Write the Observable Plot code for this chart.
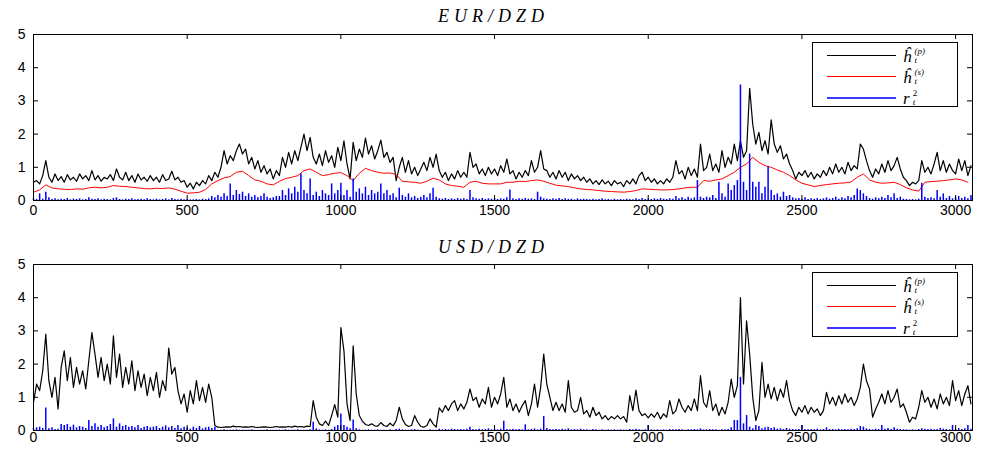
<!DOCTYPE html>
<html><head><meta charset="utf-8">
<script src="https://cdn.jsdelivr.net/npm/d3@7"></script>
<script src="https://cdn.jsdelivr.net/npm/@observablehq/plot@0.6"></script>
<style>
body{margin:0;background:#fff;}
#wrap{position:relative;width:982px;height:450px;overflow:hidden;background:#fff;}
.panel{position:absolute;left:0;width:982px;height:225px;z-index:1;}
.title{position:absolute;left:0;width:982px;text-align:center;font-family:"Liberation Serif",serif;font-style:italic;font-size:18px;line-height:18px;letter-spacing:5px;padding-left:5px;box-sizing:border-box;z-index:3;}
.legend{position:absolute;left:812px;width:146px;height:65px;border:1px solid #000;background:#fff;box-sizing:border-box;z-index:4;}
.row{position:absolute;left:0;width:144px;height:0;}
.ln{position:absolute;left:14px;width:69px;height:0;top:0;border-top:1px solid #000;}
.lab{position:absolute;left:90px;top:-10px;height:20px;line-height:20px;font-family:"Liberation Serif",serif;font-style:italic;font-size:17px;white-space:nowrap;}
.base{display:inline-block;vertical-align:middle;line-height:17px;}
.stack{display:inline-block;vertical-align:middle;font-size:9px;line-height:9.5px;margin-left:3px;}
.stack span{display:block;}
</style></head>
<body><div id="wrap">
<div class="panel" id="p1" style="top:0"></div>
<div class="panel" id="p2" style="top:225px"></div>
<div class="title" id="t1" style="top:7px"></div>
<div class="title" id="t2" style="top:238px"></div>
</div>
<script>
// observation index step used for the sampled series
const SAMPLE_STEP = 10;
const RED_STEP = 20;
const xTicks = [0, 500, 1000, 1500, 2000, 2500, 3000];
const yTicks = [0, 1, 2, 3, 4, 5];
const titles = ["EUR/DZD", "USD/DZD"];

// EUR/DZD  h_t^(p)  (black), one value every 10 observations, 0..3050
const eurHp = [
0.55,0.6,0.5,0.75,1.2,0.7,0.55,0.8,0.6,0.72,0.55,0.78,0.62,0.7,0.58,0.8,0.65,0.75,0.6,0.9,
0.62,0.75,0.58,0.7,0.65,0.78,0.6,0.95,0.7,0.62,0.85,0.6,0.75,0.55,0.8,0.62,0.7,0.58,0.75,0.6,
0.7,0.55,0.78,0.6,0.65,0.88,0.62,0.7,0.55,0.6,0.4,0.52,0.35,0.55,0.45,0.6,0.5,0.75,0.6,0.85,
0.7,1.0,1.5,1.1,1.35,1.2,1.5,1.7,1.4,1.55,1.1,1.3,0.95,1.2,0.85,1.05,0.8,0.95,0.65,0.9,
0.75,1.3,1.0,1.45,1.1,1.5,1.2,1.6,2.0,1.5,1.9,1.3,1.1,1.4,1.05,1.5,1.15,1.35,1.0,1.6,
1.2,1.8,1.1,0.65,1.75,1.2,1.55,1.3,1.88,1.4,1.65,1.25,1.5,1.82,1.3,1.45,1.15,1.3,0.6,1.0,
1.3,0.85,1.2,0.8,1.0,0.75,0.95,1.15,0.9,1.3,1.0,1.4,0.9,0.7,0.85,0.6,0.8,0.65,0.9,0.7,
0.85,0.7,1.45,1.0,1.1,0.8,0.95,0.75,1.0,0.8,0.95,0.75,1.05,0.85,1.25,0.8,0.9,0.65,0.85,0.7,
0.9,0.75,1.2,0.85,1.0,1.5,0.95,0.9,0.7,0.85,0.65,0.9,0.7,0.85,0.6,0.8,0.65,0.75,0.6,0.7,
0.55,0.65,0.5,0.6,0.48,0.62,0.5,0.58,0.45,0.6,0.5,0.55,0.42,0.6,0.5,0.65,0.5,0.75,0.85,0.6,
0.7,0.55,0.65,0.5,0.6,0.5,0.65,0.55,0.7,1.2,0.8,0.9,0.65,1.0,0.75,0.95,0.7,1.7,0.9,1.0,
1.4,0.9,1.1,0.85,1.5,1.0,1.3,1.1,1.7,1.2,1.8,1.3,1.5,3.38,2.3,1.7,2.05,1.5,1.8,1.4,
2.43,1.7,1.45,1.65,1.25,1.4,1.1,0.9,0.65,0.85,0.75,0.9,0.7,0.85,0.65,0.8,0.7,0.9,0.75,1.0,
0.8,1.1,0.85,1.0,0.8,1.15,0.9,1.05,0.95,1.7,1.55,1.2,0.9,0.7,0.95,0.8,1.1,0.85,1.2,0.9,
1.05,1.3,0.95,0.7,0.6,0.45,0.55,0.5,0.6,1.2,0.85,1.0,0.8,1.1,1.45,0.9,1.2,0.85,1.1,0.9,
0.8,1.25,0.9,1.2,0.75,1.05
];

// EUR/DZD  h_t^(s)  (red), one value every 20 observations, 0..3040
const eurHs = [
0.25,0.32,0.47,0.38,0.35,0.34,0.33,0.35,0.34,0.38,
0.4,0.38,0.4,0.45,0.43,0.42,0.4,0.38,0.36,0.35,
0.37,0.36,0.38,0.34,0.28,0.22,0.23,0.25,0.33,0.5,
0.6,0.68,0.72,0.85,0.88,0.75,0.62,0.58,0.5,0.47,
0.58,0.66,0.7,0.75,0.9,0.95,0.85,0.75,0.78,0.82,
0.84,0.75,0.6,0.82,0.97,0.9,0.85,0.82,0.83,0.78,
0.58,0.56,0.55,0.52,0.58,0.67,0.62,0.5,0.45,0.43,
0.4,0.55,0.58,0.52,0.5,0.5,0.5,0.55,0.55,0.58,
0.57,0.6,0.62,0.58,0.52,0.46,0.44,0.42,0.38,0.35,
0.33,0.32,0.3,0.28,0.27,0.26,0.25,0.27,0.3,0.35,
0.34,0.33,0.32,0.32,0.33,0.35,0.38,0.4,0.4,0.6,
0.58,0.62,0.65,0.75,0.85,1.0,1.1,1.3,1.15,1.05,
1.0,0.92,0.85,0.75,0.62,0.52,0.47,0.42,0.45,0.48,
0.5,0.52,0.53,0.56,0.7,0.8,0.62,0.55,0.52,0.53,
0.55,0.48,0.38,0.32,0.28,0.55,0.57,0.58,0.6,0.62,
0.65,0.62,0.55
];

// EUR/DZD  r_t^2  (blue), one value every 10 observations, 0..3050
const eurR2 = [
0.05,0.03,0.2,0.04,0.25,0.08,0.03,0.05,0.02,0.04,0.03,0.06,0.02,0.04,0.03,0.05,0.02,0.03,0.08,0.04,
0.03,0.05,0.02,0.04,0.03,0.02,0.06,0.08,0.03,0.02,0.04,0.03,0.05,0.02,0.03,0.04,0.02,0.05,0.03,0.02,
0.04,0.02,0.03,0.05,0.02,0.06,0.03,0.02,0.04,0.02,0.03,0.02,0.02,0.03,0.02,0.04,0.03,0.05,0.12,0.08,
0.15,0.1,0.2,0.12,0.5,0.15,0.3,0.18,0.25,0.12,0.2,0.1,0.15,0.08,0.12,0.2,0.1,0.06,0.08,0.12,
0.12,0.3,0.15,0.35,0.2,0.4,0.25,0.8,0.3,0.2,0.65,0.15,0.25,0.12,0.3,0.2,0.15,0.5,0.2,0.3,
0.52,0.15,0.3,0.1,0.65,0.25,0.35,0.2,0.4,0.15,0.3,0.2,0.25,0.5,0.2,0.3,0.15,0.2,0.08,0.37,
0.15,0.1,0.2,0.08,0.12,0.06,0.1,0.15,0.08,0.2,0.37,0.1,0.05,0.04,0.06,0.03,0.05,0.03,0.06,0.04,
0.05,0.03,0.3,0.08,0.05,0.04,0.06,0.03,0.05,0.04,0.06,0.03,0.05,0.04,0.08,0.32,0.05,0.03,0.05,0.04,
0.06,0.04,0.05,0.03,0.25,0.1,0.05,0.04,0.03,0.05,0.04,0.06,0.03,0.05,0.03,0.04,0.02,0.05,0.03,0.04,
0.03,0.02,0.04,0.02,0.03,0.05,0.02,0.03,0.02,0.04,0.02,0.03,0.02,0.04,0.03,0.02,0.05,0.03,0.06,0.03,
0.04,0.03,0.05,0.03,0.06,0.04,0.03,0.05,0.04,0.12,0.05,0.08,0.04,0.1,0.05,0.08,0.6,0.1,0.06,0.1,
0.08,0.15,0.06,0.55,0.2,0.1,0.5,0.3,0.45,0.6,3.48,0.55,0.3,1.4,0.55,0.4,0.55,0.2,0.4,1.02,
0.3,0.15,0.2,0.1,0.25,0.12,0.15,0.08,0.05,0.06,0.04,0.08,0.03,0.05,0.04,0.06,0.03,0.05,0.08,0.04,
0.06,0.1,0.04,0.08,0.05,0.12,0.08,0.15,0.35,0.3,0.2,0.12,0.06,0.04,0.08,0.05,0.1,0.06,0.15,0.08,
0.2,0.06,0.1,0.04,0.03,0.02,0.03,0.02,0.04,0.52,0.1,0.06,0.08,0.05,0.3,0.1,0.2,0.06,0.12,0.05,
0.08,0.12,0.06,0.1,0.05,0.15
];

// USD/DZD  h_t^(p)  (black), one value every 10 observations, 0..3050
const usdHp = [
0.85,1.4,1.2,1.8,2.9,1.5,1.0,1.6,0.65,1.9,2.4,1.5,2.2,1.3,1.9,1.4,1.8,1.25,2.1,2.95,
2.3,1.6,2.2,1.5,2.0,1.4,2.85,1.6,2.3,1.3,1.9,1.4,2.1,1.2,1.8,1.3,1.7,1.05,1.6,1.2,
1.75,1.0,1.5,1.2,2.48,1.7,1.9,1.2,0.8,1.1,0.55,1.2,0.8,1.5,0.9,1.3,0.85,1.4,1.0,0.15,
0.1,0.09,0.1,0.11,0.1,0.13,0.11,0.12,0.1,0.11,0.1,0.12,0.1,0.09,0.1,0.11,0.1,0.09,0.1,0.12,
0.1,0.11,0.1,0.12,0.1,0.13,0.11,0.12,0.1,0.13,0.12,0.9,0.4,0.2,0.15,0.28,0.15,0.45,0.78,0.4,
3.1,2.4,0.8,0.3,2.55,1.1,0.45,0.28,0.18,0.15,0.2,0.14,0.13,0.24,0.15,0.12,0.22,0.14,0.3,0.7,
0.35,0.18,0.12,0.15,0.45,0.25,0.12,0.1,0.15,0.35,0.2,0.1,0.68,0.55,0.75,0.6,0.8,0.9,0.6,0.8,
0.65,0.85,1.25,0.9,1.0,0.7,0.95,0.8,1.3,0.7,1.0,0.8,1.1,1.6,0.7,0.95,0.6,0.8,0.55,0.75,
0.9,0.45,0.8,1.4,0.7,1.3,2.3,1.4,1.0,0.6,0.85,0.6,0.8,0.55,1.5,0.7,0.55,0.6,1.0,0.5,
0.6,0.4,0.7,0.45,0.55,0.35,0.45,0.32,0.42,0.35,0.45,0.35,0.42,0.25,1.05,0.6,1.22,0.6,0.45,0.5,
0.38,0.5,0.4,0.55,0.35,0.5,0.4,0.9,0.5,0.6,0.95,0.7,0.55,0.75,0.6,0.95,0.6,1.65,0.85,0.7,
1.2,0.6,0.8,0.45,0.7,0.5,0.85,1.55,1.0,1.35,4.0,1.4,3.3,2.3,1.0,0.3,0.6,2.05,1.0,1.4,
0.95,1.3,0.9,1.25,1.0,1.5,0.9,0.6,0.45,0.7,0.55,0.75,0.5,0.7,0.55,0.65,0.45,0.6,1.15,0.8,
1.0,0.75,1.05,0.8,1.1,0.85,1.0,0.75,0.95,1.3,2.0,1.5,1.25,0.4,0.65,0.85,1.1,0.8,1.2,0.85,
1.0,1.25,0.7,0.8,0.55,0.25,0.4,0.35,0.7,1.2,0.85,1.0,0.7,0.95,0.65,1.1,0.8,1.0,0.75,1.5,
0.9,1.2,0.75,1.1,1.35,0.8
];

// USD/DZD  r_t^2  (blue), one value every 10 observations, 0..3050
const usdR2 = [
0.05,0.08,0.1,0.06,0.68,0.05,0.08,0.03,0.04,0.18,0.15,0.18,0.1,0.16,0.08,0.12,0.1,0.06,0.3,0.12,
0.2,0.1,0.15,0.08,0.12,0.18,0.35,0.1,0.2,0.12,0.15,0.1,0.12,0.08,0.15,0.06,0.1,0.12,0.08,0.1,
0.12,0.06,0.1,0.14,0.08,0.12,0.06,0.15,0.05,0.1,0.08,0.04,0.1,0.06,0.12,0.05,0.08,0.1,0.06,0.1,
0.01,0.01,0.02,0.01,0.01,0.01,0.02,0.01,0.01,0.01,0.01,0.02,0.01,0.01,0.01,0.01,0.02,0.01,0.01,0.01,
0.01,0.01,0.02,0.01,0.01,0.01,0.02,0.01,0.01,0.01,0.02,0.25,0.05,0.02,0.01,0.02,0.01,0.03,0.1,0.15,
0.5,0.15,0.1,0.05,0.32,0.05,0.02,0.01,0.01,0.02,0.01,0.01,0.02,0.01,0.01,0.01,0.02,0.01,0.03,0.04,
0.02,0.01,0.01,0.02,0.03,0.01,0.01,0.01,0.01,0.02,0.01,0.01,0.04,0.02,0.03,0.02,0.04,0.03,0.02,0.03,
0.02,0.04,0.1,0.03,0.02,0.04,0.02,0.03,0.05,0.02,0.03,0.02,0.04,0.28,0.03,0.02,0.04,0.02,0.03,0.02,
0.17,0.02,0.03,0.05,0.02,0.04,0.42,0.06,0.03,0.02,0.03,0.02,0.04,0.02,0.05,0.02,0.03,0.02,0.04,0.02,
0.02,0.01,0.03,0.02,0.01,0.02,0.01,0.02,0.01,0.02,0.01,0.02,0.01,0.01,0.03,0.02,0.04,0.02,0.01,0.02,
0.15,0.02,0.01,0.02,0.01,0.02,0.01,0.03,0.02,0.02,0.03,0.02,0.01,0.02,0.02,0.03,0.02,0.05,0.02,0.02,
0.03,0.02,0.02,0.01,0.02,0.02,0.03,0.08,0.3,0.3,1.6,0.2,0.45,0.1,0.05,0.15,0.12,0.05,0.08,0.1,
0.06,0.08,0.04,0.05,0.03,0.06,0.04,0.03,0.02,0.03,0.15,0.03,0.02,0.03,0.02,0.04,0.02,0.03,0.08,0.03,
0.03,0.02,0.04,0.02,0.03,0.02,0.04,0.03,0.05,0.12,0.1,0.05,0.03,0.02,0.04,0.03,0.15,0.04,0.06,0.03,
0.08,0.04,0.03,0.02,0.02,0.01,0.02,0.01,0.03,0.05,0.04,0.03,0.04,0.02,0.03,0.06,0.04,0.03,0.02,0.15,
0.04,0.06,0.03,0.05,0.15,0.04
];

const series = (vals, step) => vals.map((v, i) => ({t: i * step, v}));

function makePanel(hp, hs, r2, marginTop, marginBottom, labelPad) {
  const W = 982, H = 225, mL = 33, mR = 10;
  const plotH = H - marginTop - marginBottom, plotW = W - mL - mR;
  const tk = 5;
  const marks = [
    Plot.line(series(hp, SAMPLE_STEP), {x: "t", y: "v", stroke: "#000", strokeWidth: 1.2}),
  ];
  if (hs) marks.push(Plot.line(series(hs, RED_STEP), {x: "t", y: "v", stroke: "#ff0000", strokeWidth: 1}));
  marks.push(
    Plot.ruleX(series(r2, SAMPLE_STEP), {x: "t", y1: 0, y2: "v", stroke: "#0000ff", strokeWidth: 1.5}),
    Plot.frame({stroke: "#000", strokeWidth: 1}),
    Plot.ruleX(xTicks, {x: d => d, insetTop: plotH - tk, stroke: "#000"}),
    Plot.ruleX(xTicks, {x: d => d, insetBottom: plotH - tk, stroke: "#000"}),
    Plot.ruleY(yTicks, {y: d => d, insetRight: plotW - tk, stroke: "#000"}),
    Plot.ruleY(yTicks, {y: d => d, insetLeft: plotW - tk, stroke: "#000"}),
    Plot.axisX({ticks: xTicks, tickSize: 0, tickPadding: labelPad, tickFormat: d => String(d), fontSize: 14, fill: "#000"}),
    Plot.axisY({ticks: yTicks, tickSize: 0, tickPadding: 8, tickFormat: d => String(d), fontSize: 14, fill: "#000"})
  );
  return Plot.plot({
    width: W, height: H,
    marginLeft: mL, marginRight: mR, marginTop, marginBottom,
    style: {fontFamily: "'Liberation Sans', Arial, sans-serif", background: "transparent", color: "#000"},
    x: {domain: [0, 3055], label: null},
    y: {domain: [0, 5], label: null},
    marks
  });
}

function legendHtml(top) {
  const hat = (s) => `<span class="base">h&#770;</span><span class="stack"><span>(${s})</span><span>t</span></span>`;
  const rows = [
    {c: "#000000", w: 1, l: hat("p"), y: 12},
    {c: "#ff0000", w: 1, l: hat("s"), y: 33},
    {c: "#3a3aff", w: 2, l: `<span class="base">r</span><span class="stack"><span style="font-style:normal">2</span><span>t</span></span>`, y: 54}
  ];
  return `<div class="legend" style="top:${top}px">` + rows.map(r =>
    `<div class="row" style="top:${r.y}px"><div class="ln" style="border-top:${r.w}px solid ${r.c}"></div><div class="lab">${r.l}</div></div>`
  ).join("") + `</div>`;
}

document.getElementById("t1").textContent = titles[0];
document.getElementById("t2").textContent = titles[1];
const p1 = document.getElementById("p1");
p1.appendChild(makePanel(eurHp, eurHs, eurR2, 34, 25, 5));
p1.insertAdjacentHTML("beforeend", legendHtml(42));
const p2 = document.getElementById("p2");
p2.appendChild(makePanel(usdHp, null, usdR2, 39, 20, 2));
p2.insertAdjacentHTML("beforeend", legendHtml(47));
</script>
</body></html>
